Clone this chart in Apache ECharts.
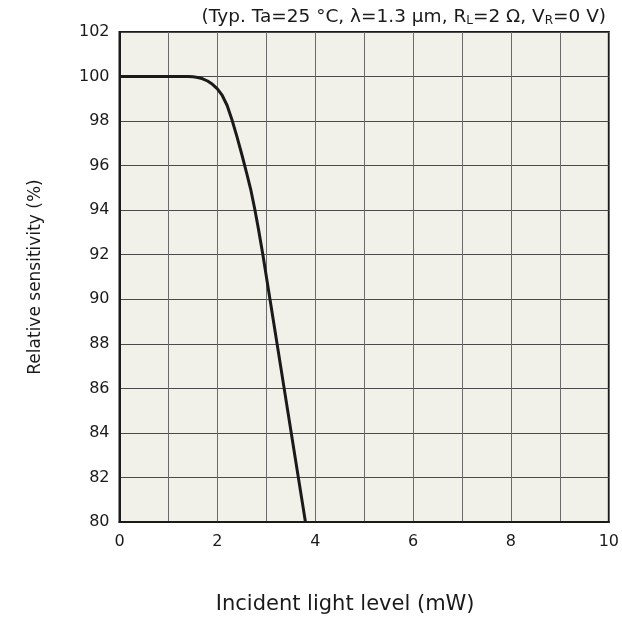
<!DOCTYPE html>
<html><head><meta charset="utf-8">
<script src="https://cdn.jsdelivr.net/npm/echarts@6/dist/echarts.min.js"></script>
<style>html,body{margin:0;padding:0;background:#fff}#c{width:622px;height:622px}</style>
</head><body><div id="c"></div>
<script>
var lightLevel = [0, 0.5, 1.0, 1.4, 1.5, 1.6, 1.7, 1.8, 1.9, 2.0, 2.1, 2.2, 2.3, 2.4, 2.5, 2.6, 2.68, 2.76, 2.84, 2.93, 3.075, 3.22, 3.365, 3.51, 3.655, 3.80];
var sensitivity = [100, 100, 100, 100, 99.99, 99.96, 99.9, 99.8, 99.65, 99.45, 99.15, 98.7, 98.05, 97.3, 96.5, 95.65, 94.95, 94.1, 93.15, 92.0, 90.0, 88.0, 86.0, 84.0, 82.0, 80.0];
var xTicks = [0, 2, 4, 6, 8, 10];

var font = 'DejaVu Sans';
var chart = echarts.init(document.getElementById('c'));
chart.setOption({
  animation: false,
  title: {
    text: '(Typ. Ta=25 °C, λ=1.3 μm, R{s|L}=2 Ω, V{s|R}=0 V)',
    right: 11, top: 3,
    textStyle: {
      fontFamily: font, fontSize: 18.5, fontWeight: 'normal', color: '#1a1a1a',
      rich: { s: { fontFamily: font, fontSize: 12, color: '#1a1a1a', verticalAlign: 'bottom', padding: [6, 0, 0, 0] } }
    }
  },
  grid: { left: 119.5, right: 12.5, top: 32, bottom: 100, show: true, backgroundColor: '#f2f1e9', borderColor: '#1a1a1a', borderWidth: 2 },
  xAxis: {
    type: 'value', min: 0, max: 10, interval: 1,
    name: 'Incident light level (mW)', nameLocation: 'middle', nameGap: 72,
    nameTextStyle: { fontFamily: font, fontSize: 21, color: '#1a1a1a', padding: [0, 38, 0, 0] },
    axisLine: { show: true, lineStyle: { color: '#1a1a1a', width: 2 } },
    axisTick: { show: false },
    axisLabel: { fontFamily: font, fontSize: 16, color: '#1a1a1a', margin: 12,
      formatter: function (v) { return xTicks.indexOf(v) >= 0 ? String(v) : ''; } },
    splitLine: { show: true, lineStyle: { color: '#6a6a6a', width: 1 } }
  },
  yAxis: {
    type: 'value', min: 80, max: 102, interval: 2,
    name: 'Relative sensitivity (%)', nameLocation: 'middle', nameGap: 75,
    nameTextStyle: { fontFamily: font, fontSize: 17, color: '#1a1a1a' },
    axisLine: { show: true, lineStyle: { color: '#1a1a1a', width: 2 } },
    axisTick: { show: false },
    axisLabel: { fontFamily: font, fontSize: 16, color: '#1a1a1a', margin: 10 },
    splitLine: { show: true, lineStyle: { color: '#4a4a4a', width: 1 } }
  },
  series: [{
    type: 'line', smooth: false, showSymbol: false,
    data: lightLevel.map(function (x, i) { return [x, sensitivity[i]]; }),
    lineStyle: { color: '#1a1a1a', width: 3, join: 'round' }
  }]
});
</script></body></html>
